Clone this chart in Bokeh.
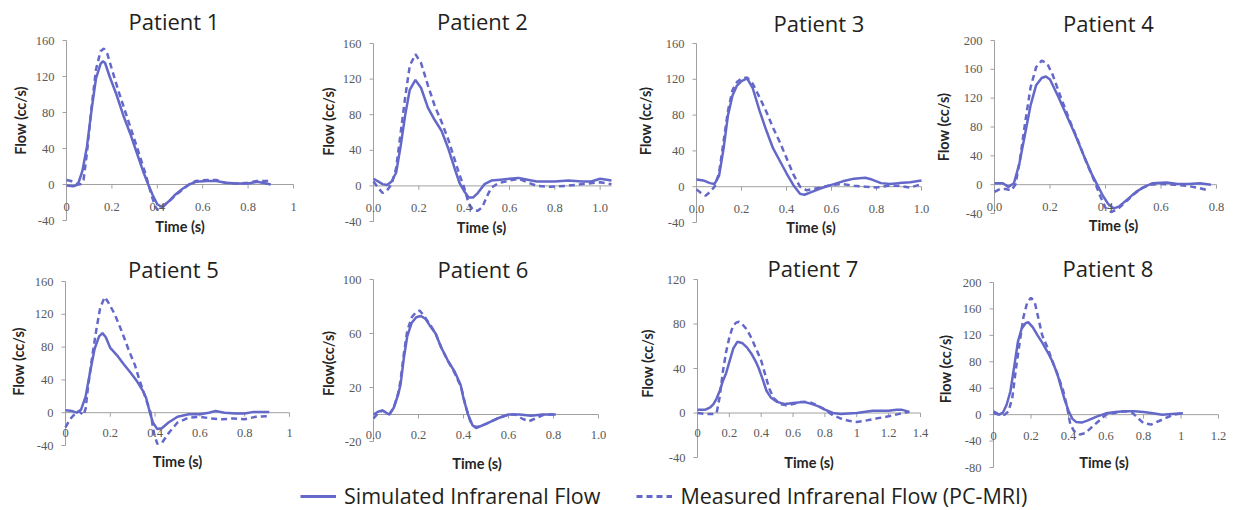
import math
from bokeh.plotting import figure
from bokeh.layouts import column, row
from bokeh.models import Legend, LegendItem, Range1d, LabelSet, Label, ColumnDataSource
from bokeh.embed import file_html
from bokeh.resources import INLINE

COLOR = "#6468C8"

titles = ["Patient 1", "Patient 2", "Patient 3", "Patient 4",
          "Patient 5", "Patient 6", "Patient 7", "Patient 8"]
ylabels = ["Flow (cc/s)"] * 5 + ["Flow(cc/s)"] + ["Flow (cc/s)"] * 2
xlabel = "Time (s)"
legend_labels = ["Simulated Infrarenal Flow", "Measured Infrarenal Flow (PC-MRI)"]

x_ends = [1.0, 1.05, 1.0, 0.8, 1.0, 1.0, 1.4, 1.2]
y_ranges = [(-40, 160), (-40, 160), (-40, 160), (-40, 200),
            (-40, 160), (-20, 100), (-40, 120), (-80, 200)]
xtick_labels = [
    ["0", "0.2", "0.4", "0.6", "0.8", "1"],
    ["0.0", "0.2", "0.4", "0.6", "0.8", "1.0"],
    ["0.0", "0.2", "0.4", "0.6", "0.8", "1.0"],
    ["0.0", "0.2", "0.4", "0.6", "0.8"],
    ["0", "0.2", "0.4", "0.6", "0.8", "1"],
    ["0.0", "0.2", "0.4", "0.6", "0.8", "1.0"],
    ["0", "0.2", "0.4", "0.6", "0.8", "1", "1.2", "1.4"],
    ["0", "0.2", "0.4", "0.6", "0.8", "1", "1.2"],
]
yticks = [
    [-40, 0, 40, 80, 120, 160],
    [-40, 0, 40, 80, 120, 160],
    [-40, 0, 40, 80, 120, 160],
    [-40, 0, 40, 80, 120, 160, 200],
    [-40, 0, 40, 80, 120, 160],
    [-20, 20, 60, 100],
    [-40, 0, 40, 80, 120],
    [-80, -40, 0, 40, 80, 120, 160, 200],
]

# ---- Patient 1
p1_sim_t = [0, 0.03, 0.05, 0.07, 0.09, 0.11, 0.13, 0.15, 0.16, 0.17, 0.19, 0.22, 0.25, 0.28, 0.31, 0.34, 0.36, 0.38, 0.40, 0.42, 0.45, 0.48, 0.51, 0.54, 0.57, 0.62, 0.66, 0.70, 0.75, 0.80, 0.84, 0.88, 0.90]
p1_sim_q = [-1, -2, 0, 15, 42, 82, 118, 134, 137, 135, 120, 100, 77, 57, 35, 13, 0, -12, -22, -25, -19, -11, -5, 0, 3, 4, 4, 2, 1, 1, 3, 1, 0]
p1_meas_t = [0, 0.02, 0.04, 0.06, 0.075, 0.09, 0.11, 0.13, 0.15, 0.165, 0.18, 0.20, 0.23, 0.26, 0.29, 0.32, 0.35, 0.37, 0.39, 0.40, 0.42, 0.45, 0.48, 0.51, 0.54, 0.57, 0.62, 0.66, 0.70, 0.75, 0.80, 0.84, 0.88, 0.90]
p1_meas_q = [5, 4, 1, 0, 5, 35, 85, 128, 148, 151, 145, 128, 103, 80, 57, 34, 10, -8, -24, -28, -26, -19, -12, -6, 0, 4, 5, 5, 2, 1, 2, 4, 4, 4]

# ---- Patient 2
p2_sim_t = [0, 0.02, 0.04, 0.06, 0.08, 0.10, 0.12, 0.14, 0.16, 0.185, 0.21, 0.24, 0.27, 0.30, 0.33, 0.36, 0.38, 0.40, 0.42, 0.44, 0.46, 0.49, 0.52, 0.56, 0.60, 0.64, 0.68, 0.72, 0.80, 0.86, 0.92, 0.96, 1.00, 1.05]
p2_sim_q = [8, 5, 2, 1, 5, 15, 45, 80, 108, 119, 110, 88, 74, 62, 42, 18, 3, -6, -13, -13, -8, 2, 6, 7, 8, 9, 7, 5, 5, 6, 5, 5, 8, 6]
p2_meas_t = [0, 0.02, 0.04, 0.06, 0.08, 0.10, 0.12, 0.14, 0.16, 0.185, 0.21, 0.24, 0.27, 0.30, 0.33, 0.36, 0.38, 0.40, 0.42, 0.44, 0.46, 0.48, 0.50, 0.52, 0.55, 0.60, 0.64, 0.68, 0.72, 0.78, 0.85, 0.92, 1.00, 1.05]
p2_meas_q = [5, -2, -8, -5, 2, 20, 60, 100, 135, 148, 138, 113, 90, 72, 52, 28, 12, -2, -20, -27, -28, -24, -12, -2, 3, 6, 8, 4, 0, -1, 0, 2, 4, 2]

# ---- Patient 3
p3_sim_t = [0, 0.03, 0.06, 0.08, 0.10, 0.12, 0.14, 0.16, 0.18, 0.20, 0.225, 0.25, 0.28, 0.31, 0.34, 0.37, 0.40, 0.43, 0.46, 0.48, 0.51, 0.55, 0.60, 0.65, 0.70, 0.75, 0.78, 0.82, 0.86, 0.90, 0.95, 1.00]
p3_sim_q = [8, 7, 4, 3, 12, 42, 80, 102, 113, 118, 121, 110, 85, 63, 43, 29, 15, 2, -8, -9, -6, -2, 2, 6, 9, 10, 8, 4, 3, 4, 5, 7]
p3_meas_t = [0, 0.02, 0.04, 0.06, 0.08, 0.10, 0.12, 0.14, 0.16, 0.18, 0.20, 0.225, 0.25, 0.28, 0.31, 0.34, 0.37, 0.40, 0.43, 0.46, 0.49, 0.55, 0.60, 0.65, 0.70, 0.75, 0.80, 0.85, 0.90, 0.95, 1.00]
p3_meas_q = [-3, -7, -10, -6, 0, 15, 50, 85, 108, 117, 121, 122, 115, 100, 84, 66, 50, 32, 14, 0, -4, -1, 2, 3, 1, 0, -1, 1, 1, -1, 3]

# ---- Patient 4
p4_sim_t = [0, 0.03, 0.05, 0.07, 0.09, 0.11, 0.13, 0.15, 0.17, 0.185, 0.20, 0.23, 0.26, 0.29, 0.32, 0.35, 0.37, 0.39, 0.41, 0.43, 0.45, 0.48, 0.51, 0.54, 0.57, 0.62, 0.66, 0.70, 0.74, 0.78]
p4_sim_q = [2, 2, -3, 2, 30, 70, 110, 138, 148, 150, 146, 122, 96, 70, 42, 15, 0, -15, -27, -33, -30, -20, -10, -3, 2, 3, 1, 1, 2, 0]
p4_meas_t = [0, 0.02, 0.04, 0.06, 0.075, 0.09, 0.11, 0.13, 0.15, 0.17, 0.19, 0.21, 0.24, 0.27, 0.30, 0.33, 0.36, 0.38, 0.40, 0.42, 0.44, 0.47, 0.50, 0.53, 0.56, 0.60, 0.65, 0.70, 0.74, 0.77]
p4_meas_q = [-10, -6, -6, -8, 0, 30, 85, 135, 163, 172, 168, 152, 120, 90, 62, 32, 5, -15, -32, -38, -35, -25, -14, -5, 0, 1, 0, -2, -5, -8]

# ---- Patient 5
p5_sim_t = [0, 0.03, 0.05, 0.07, 0.09, 0.11, 0.13, 0.15, 0.165, 0.18, 0.20, 0.23, 0.26, 0.29, 0.32, 0.345, 0.36, 0.375, 0.39, 0.41, 0.43, 0.46, 0.50, 0.55, 0.60, 0.64, 0.67, 0.71, 0.76, 0.80, 0.84, 0.88, 0.91]
p5_sim_q = [3, 2, 0, 4, 20, 50, 78, 93, 97, 92, 79, 70, 59, 49, 38, 27, 18, 2, -12, -20, -19, -12, -5, -2, -2, 0, 2, 0, -1, -1, 1, 1, 1]
p5_meas_t = [0, 0.02, 0.04, 0.06, 0.08, 0.09, 0.10, 0.12, 0.14, 0.155, 0.175, 0.19, 0.22, 0.25, 0.28, 0.31, 0.33, 0.355, 0.38, 0.395, 0.41, 0.43, 0.46, 0.50, 0.55, 0.60, 0.65, 0.70, 0.75, 0.80, 0.85, 0.91]
p5_meas_q = [-18, -8, -2, 2, -3, 5, 30, 70, 105, 128, 141, 135, 120, 100, 78, 58, 40, 20, 0, -25, -38, -37, -25, -12, -6, -5, -7, -8, -7, -8, -5, -4]

# ---- Patient 6
p6_sim_t = [0, 0.02, 0.04, 0.07, 0.09, 0.11, 0.12, 0.135, 0.15, 0.17, 0.19, 0.21, 0.23, 0.25, 0.276, 0.30, 0.33, 0.36, 0.387, 0.40, 0.42, 0.44, 0.456, 0.50, 0.55, 0.60, 0.65, 0.70, 0.75, 0.81]
p6_sim_q = [0, 2, 3, 0, 5, 15, 22, 42, 58, 68, 72, 73, 71, 66, 60, 50, 40, 32, 22, 12, 0, -8, -10, -7, -3, 0, 0, -1, 0, 0]
p6_meas_t = [0, 0.02, 0.04, 0.07, 0.09, 0.11, 0.12, 0.135, 0.15, 0.17, 0.19, 0.205, 0.22, 0.25, 0.276, 0.30, 0.33, 0.36, 0.39, 0.41, 0.43, 0.45, 0.47, 0.50, 0.55, 0.60, 0.63, 0.66, 0.69, 0.72, 0.76, 0.80]
p6_meas_q = [-3, 1, 3, 0, 5, 16, 25, 45, 62, 72, 76, 77, 74, 67, 60, 50, 40, 31, 20, 6, -5, -9, -9, -7, -3, 0, 0, -3, -5, -3, 0, 0]

# ---- Patient 7
p7_sim_t = [0, 0.05, 0.08, 0.10, 0.12, 0.14, 0.16, 0.18, 0.20, 0.225, 0.25, 0.28, 0.31, 0.34, 0.37, 0.385, 0.41, 0.433, 0.46, 0.50, 0.55, 0.60, 0.67, 0.72, 0.76, 0.80, 0.85, 0.90, 1.0, 1.1, 1.2, 1.25, 1.28, 1.33]
p7_sim_q = [3, 3, 5, 8, 13, 20, 29, 36, 46, 58, 64, 63, 59, 53, 45, 40, 30, 20, 14, 10, 8, 9, 10, 8, 6, 3, 0, -1, 0, 2, 2, 3, 3, 1]
p7_meas_t = [0, 0.05, 0.10, 0.12, 0.14, 0.16, 0.18, 0.20, 0.22, 0.24, 0.26, 0.28, 0.31, 0.34, 0.37, 0.40, 0.42, 0.45, 0.48, 0.52, 0.56, 0.60, 0.65, 0.70, 0.75, 0.80, 0.85, 0.90, 0.95, 1.00, 1.05, 1.12, 1.20, 1.26, 1.33]
p7_meas_q = [0, -1, -1, 0, 15, 38, 55, 68, 77, 81, 82, 80, 75, 67, 57, 47, 37, 22, 13, 8, 7, 8, 10, 10, 7, 3, -2, -5, -7, -8, -7, -5, -3, -1, 1]

# ---- Patient 8
p8_sim_t = [0, 0.03, 0.05, 0.07, 0.09, 0.11, 0.13, 0.15, 0.17, 0.185, 0.21, 0.235, 0.26, 0.29, 0.315, 0.34, 0.36, 0.38, 0.40, 0.42, 0.44, 0.47, 0.50, 0.55, 0.60, 0.65, 0.70, 0.75, 0.80, 0.85, 0.90, 0.95, 1.01]
p8_sim_q = [5, 0, 3, 15, 35, 72, 110, 130, 138, 140, 132, 120, 109, 94, 80, 62, 42, 22, 6, -6, -11, -12, -9, -3, 2, 4, 5, 5, 4, 2, 0, 1, 2]
p8_meas_t = [0, 0.03, 0.06, 0.08, 0.10, 0.12, 0.14, 0.16, 0.18, 0.20, 0.22, 0.24, 0.26, 0.29, 0.315, 0.34, 0.37, 0.39, 0.41, 0.43, 0.46, 0.49, 0.52, 0.56, 0.60, 0.65, 0.70, 0.74, 0.77, 0.80, 0.84, 0.88, 0.92, 0.96, 1.01]
p8_meas_q = [2, 0, 0, 5, 25, 70, 110, 148, 170, 177, 170, 145, 120, 100, 80, 62, 38, 15, -15, -25, -30, -28, -20, -10, 0, 3, 5, 3, -5, -13, -15, -10, -5, 0, 2]

sims = [(p1_sim_t, p1_sim_q), (p2_sim_t, p2_sim_q), (p3_sim_t, p3_sim_q), (p4_sim_t, p4_sim_q),
        (p5_sim_t, p5_sim_q), (p6_sim_t, p6_sim_q), (p7_sim_t, p7_sim_q), (p8_sim_t, p8_sim_q)]
meas = [(p1_meas_t, p1_meas_q), (p2_meas_t, p2_meas_q), (p3_meas_t, p3_meas_q), (p4_meas_t, p4_meas_q),
        (p5_meas_t, p5_meas_q), (p6_meas_t, p6_meas_q), (p7_meas_t, p7_meas_q), (p8_meas_t, p8_meas_q)]

# ---------------- layout geometry (page pixels) ----------------
col_left = [0, 318, 634, 936]
col_width = [318, 316, 302, 305]
row_top = [0, 248]
row_height = [248, 228]
LEGEND_H = 34
# plotting box of each panel: x at t=0, x at axis end, y at top value, y at bottom value
boxes = [(66, 293, 40, 220), (373, 611, 43, 221), (696, 921, 43, 222), (994, 1216, 40, 213),
         (65, 289, 281, 445), (373, 598, 279, 441), (697, 920, 279, 457), (993, 1218, 282, 467)]
title_dx = [-6, -10, 10, 3, -4, -3, 4, 2]
title_dy = [20, 23, 21, 18, 13, 11, 12, 15]
ylab_dx = [46, 45, 51, 51, 47, 45, 50, 48]
ylab_dy = [10, 11, 12, 0, 2, -3, 5, 6]
xtl_dy = [22, 22, 22, 22, 20, 20, 20, 21]
xlab_dx = [0, -11, 2, 8, 0, -9, 0, -2]
xlab_dy = [42, 42, 41, 41, 49, 49, 49, 48]
TICK_LEN = 4

TICK_COLOR = "#595959"
AXIS_COLOR = "#A0A0A0"
TEXT_COLOR = "#262626"
FONT = "Lato"


def panel(i):
    r, c = divmod(i, 4)
    fl, ft = col_left[c], row_top[r]
    W, H = col_width[c], row_height[r]
    x0, x1, yt, yb = boxes[i]
    xend = x_ends[i]
    ymin, ymax = y_ranges[i]
    L, R = x0 - fl, x1 - fl
    T, B = yt - ft, yb - ft
    sx = (R - L) / xend
    sy = (B - T) / (ymax - ymin)
    xr = Range1d(-L / sx, (W - L) / sx)
    yr = Range1d(ymin - (H - B) / sy, ymax + T / sy)

    p = figure(width=W, height=H, x_range=xr, y_range=yr,
               x_axis_type=None, y_axis_type=None,
               output_backend="svg", toolbar_location=None, min_border=0)
    p.outline_line_color = None
    p.grid.visible = False
    p.background_fill_color = "white"
    p.border_fill_color = "white"

    # axes
    p.line([0, xend], [0, 0], line_color=AXIS_COLOR, line_width=1)
    p.line([0, 0], [ymin, ymax], line_color=AXIS_COLOR, line_width=1)
    xt = [float(s) for s in xtick_labels[i]]
    p.segment(x0=xt, y0=[0] * len(xt), x1=xt, y1=[-TICK_LEN / sy] * len(xt),
              line_color=AXIS_COLOR, line_width=1)
    yk = yticks[i]
    p.segment(x0=[0] * len(yk), y0=yk, x1=[-TICK_LEN / sx] * len(yk), y1=yk,
              line_color=AXIS_COLOR, line_width=1)

    # data
    st, sq = sims[i]
    mt, mq = meas[i]
    p.line(st, sq, line_color=COLOR, line_width=2.5)
    p.line(mt, mq, line_color=COLOR, line_width=2.5, line_dash="6 4")

    # tick labels
    xsrc = ColumnDataSource(dict(x=xt, y=[0] * len(xt), text=xtick_labels[i]))
    p.add_layout(LabelSet(x="x", y="y", text="text", source=xsrc, y_offset=-xtl_dy[i],
                          text_align="center", text_baseline="middle",
                          text_font=FONT, text_font_size="12.5px", text_color=TICK_COLOR))
    ysrc = ColumnDataSource(dict(x=[0] * len(yk), y=yk, text=[str(v) for v in yk]))
    p.add_layout(LabelSet(x="x", y="y", text="text", source=ysrc, x_offset=-12,
                          text_align="right", text_baseline="middle",
                          text_font=FONT, text_font_size="12.5px", text_color=TICK_COLOR))

    # axis titles
    p.add_layout(Label(x=xend / 2, y=0, x_offset=xlab_dx[i], y_offset=-xlab_dy[i], text=xlabel,
                       text_align="center", text_baseline="middle",
                       text_font=FONT, text_font_size="14.5px", text_font_style="bold",
                       text_color=TEXT_COLOR))
    p.add_layout(Label(x=0, y=(ymin + ymax) / 2, x_offset=-ylab_dx[i], y_offset=ylab_dy[i],
                       text=ylabels[i], angle=math.pi / 2,
                       text_align="center", text_baseline="middle",
                       text_font=FONT, text_font_size="14.5px", text_font_style="bold",
                       text_color=TEXT_COLOR))
    # panel title
    p.add_layout(Label(x=xend / 2, y=ymax, x_offset=title_dx[i], y_offset=title_dy[i],
                       text=titles[i], text_align="center", text_baseline="middle",
                       text_font="Open Sans", text_font_size="22px",
                       text_color="#231f20"))
    return p


figs = [panel(i) for i in range(8)]

leg = figure(width=sum(col_width), height=LEGEND_H, x_range=Range1d(0, 1), y_range=Range1d(0, 1),
             x_axis_type=None, y_axis_type=None, output_backend="svg",
             toolbar_location=None, min_border=0)
leg.grid.visible = False
leg.outline_line_color = None
# legend-only renderers (kept outside the visible range)
r1 = leg.line([-2, -1], [-2, -1], line_color=COLOR, line_width=3)
r2 = leg.line([-2, -1], [-2, -1], line_color=COLOR, line_width=3, line_dash="6 4")
legend = Legend(items=[LegendItem(label=legend_labels[0], renderers=[r1]),
                       LegendItem(label=legend_labels[1], renderers=[r2])],
                orientation="horizontal", location=(300, 0),
                glyph_width=36, label_standoff=8, spacing=36,
                padding=0, margin=0, border_line_color=None,
                background_fill_alpha=0,
                label_text_font="Open Sans", label_text_font_size="21.5px",
                label_text_color="#231f20")
leg.add_layout(legend)

layout = column(row(*figs[:4]), row(*figs[4:]), leg)
open("out.html", "w").write(file_html(layout, INLINE))
